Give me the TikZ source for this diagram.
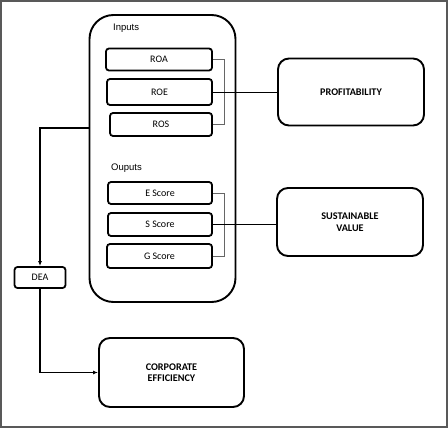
\documentclass[tikz,border=0pt]{standalone}
\usepackage{fontspec}
\setmainfont{Carlito}
\newfontfamily\labelfont{Liberation Sans}
\usetikzlibrary{positioning,arrows.meta}

\begin{document}
\begin{tikzpicture}[x=1pt,y=-1pt,
    item/.style={draw,line width=1.8pt,rounded corners=3pt,inner sep=0pt,
        minimum height=22pt,font=\fontsize{10}{11}\selectfont},
    goal/.style={draw,line width=1.9pt,rounded corners=11pt,inner sep=0pt,
        minimum width=146pt,minimum height=67pt,align=center,
        font=\bfseries\fontsize{10.2}{11.5}\selectfont},
    bracket/.style={draw=black!60,line width=0.7pt},
    link/.style={line width=0.8pt},
    flow/.style={line width=1.2pt,-{Latex[length=5pt,width=4pt]}}]

    \useasboundingbox (0,0) rectangle (448,428);
    \draw[draw=black!65,line width=2pt] (1,1) rectangle (447,427);

    % container of the variables
    \node[draw,line width=1.9pt,rounded corners=24pt,minimum width=146pt,
        minimum height=287pt] (holder) at (162.5,158.5) {};
    \node[anchor=west,inner sep=0pt,font=\labelfont\fontsize{9.5}{11}\selectfont] (intitle) at (113,28) {Inputs};
    \node[anchor=west,inner sep=0pt,font=\labelfont\fontsize{9.5}{11}\selectfont] (outtitle) at (111,168) {Ouputs};

    % inputs
    \node[item,minimum width=106pt] (roa) at (159,59.5) {ROA};
    \node[item,minimum width=105pt,minimum height=26pt] (roe) at (159.5,92) {ROE};
    \node[item,minimum width=102pt,minimum height=23pt] (ros) at (161,124.5) {ROS};

    % outputs
    \node[item,minimum width=104pt] (escore) at (160,193) {E Score};
    \node[item,minimum width=104pt,minimum height=23pt] (sscore) at (160,224.5) {S Score};
    \node[item,minimum width=105pt,minimum height=24pt] (gscore) at (159.5,256) {G Score};

    % constructs
    \node[goal] (profit) at (351,92) {PROFITABILITY};
    \node[goal,minimum height=68pt] (susval) at (350,222) {SUSTAINABLE\\VALUE};
    \node[item,minimum width=51pt,minimum height=21pt] (dea) at (40,277.5) {DEA};
    \node[goal,minimum width=145pt,minimum height=69pt] (corpeff) at (171.5,372.5) {CORPORATE\\EFFICIENCY};

    % brackets and links
    \draw[bracket] (roa.east) -- ++(11,0) |- (ros.east);
    \draw[bracket] (escore.east) -- ++(11,0) |- (gscore.east);
    \draw[link] (roe.east) -- (roe.east -| profit.west);
    \draw[link] (sscore.east) -- (sscore.east -| susval.west);

    \coordinate (tap) at (holder.west |- 0,128);
    \draw[flow] (tap) -| (dea.north);
    \draw[flow] (dea.south) |- (corpeff.west);
\end{tikzpicture}
\end{document}
